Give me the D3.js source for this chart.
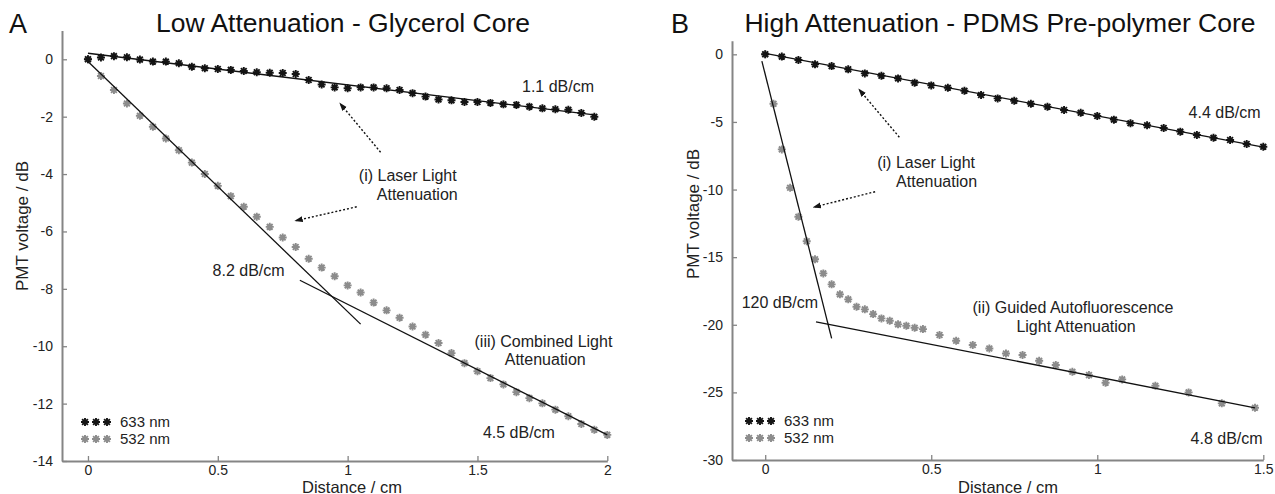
<!DOCTYPE html>
<html>
<head>
<meta charset="utf-8">
<script src="https://cdn.jsdelivr.net/npm/d3@7"></script>
<style>
  body { margin: 0; background: #fff; }
  svg { display: block; font-family: "Liberation Sans", Arial, sans-serif; }
</style>
</head>
<body>
<svg id="chart" width="1275" height="494"></svg>
<script>
// ---- Panel A: glycerol core ----
const distA633 = [0, 0.05, 0.1, 0.15, 0.2, 0.25, 0.3, 0.35, 0.4, 0.45, 0.5, 0.55, 0.6, 0.65, 0.7, 0.75, 0.8, 0.85, 0.9, 0.95,
                  1, 1.05, 1.1, 1.15, 1.2, 1.25, 1.3, 1.35, 1.4, 1.45, 1.5, 1.55, 1.6, 1.65, 1.7, 1.75, 1.8, 1.85, 1.9, 1.95];
const dbA633 = [0, 0.06, 0.11, 0.07, -0.01, -0.08, -0.08, -0.14, -0.26, -0.31, -0.34, -0.37, -0.41, -0.45, -0.47, -0.48, -0.51, -0.72, -0.88, -0.98,
                -1.01, -0.98, -0.98, -1.01, -1.07, -1.18, -1.30, -1.40, -1.43, -1.49, -1.49, -1.52, -1.57, -1.59, -1.65, -1.71, -1.74, -1.76, -1.87, -2.00];
const distA532 = [0, 0.05, 0.1, 0.15, 0.2, 0.25, 0.3, 0.35, 0.4, 0.45, 0.5, 0.55, 0.6, 0.65, 0.7, 0.75, 0.8, 0.85, 0.9, 0.95,
                  1, 1.05, 1.1, 1.15, 1.2, 1.25, 1.3, 1.35, 1.4, 1.45, 1.5, 1.55, 1.6, 1.65, 1.7, 1.75, 1.8, 1.85, 1.9, 1.95, 2];
const dbA532 = [0, -0.58, -1.07, -1.54, -1.97, -2.35, -2.76, -3.17, -3.60, -4.00, -4.41, -4.77, -5.14, -5.49, -5.84, -6.21, -6.54, -6.95, -7.26, -7.56,
                -7.88, -8.13, -8.48, -8.75, -9.01, -9.31, -9.60, -9.89, -10.24, -10.59, -10.87, -11.11, -11.33, -11.60, -11.81, -11.99, -12.21, -12.44, -12.71, -12.91, -13.09];
// fitted lines: [x0, y0, x1, y1]
const fitsA = [[0, 0.21, 1.95, -1.94], [0, -0.08, 1.05, -9.23], [0.816, -7.70, 2.0, -13.09]];
const xTicksA = [0, 0.5, 1, 1.5, 2];
const yTicksA = [0, -2, -4, -6, -8, -10, -12, -14];

// ---- Panel B: PDMS pre-polymer core ----
const distB633 = [0, 0.05, 0.1, 0.15, 0.2, 0.25, 0.3, 0.35, 0.4, 0.45, 0.5, 0.55, 0.6, 0.65, 0.7, 0.75,
                  0.8, 0.85, 0.9, 0.95, 1, 1.05, 1.1, 1.15, 1.2, 1.25, 1.3, 1.35, 1.4, 1.45, 1.5];
const dbB633 = [0, -0.17, -0.42, -0.74, -0.87, -1.11, -1.41, -1.58, -1.78, -2.10, -2.30, -2.47, -2.69, -3.01, -3.26, -3.43,
                -3.65, -3.88, -4.12, -4.32, -4.56, -4.83, -5.10, -5.25, -5.45, -5.72, -5.97, -6.17, -6.34, -6.63, -6.83];
const distB532 = [0, 0.025, 0.05, 0.075, 0.1, 0.125, 0.15, 0.175, 0.2, 0.225, 0.25, 0.275, 0.3, 0.325, 0.35, 0.375, 0.4, 0.425, 0.45, 0.475,
                  0.525, 0.575, 0.625, 0.675, 0.725, 0.775, 0.825, 0.875, 0.925, 0.975, 1.025, 1.075, 1.175, 1.275, 1.375, 1.475];
const dbB532 = [0, -3.65, -7.03, -9.87, -12.01, -13.82, -15.16, -16.20, -17.01, -17.75, -18.12, -18.67, -18.86, -19.21, -19.53, -19.70, -19.97, -20.07, -20.22, -20.32,
                -20.76, -21.18, -21.50, -21.75, -22.12, -22.24, -22.66, -22.98, -23.47, -23.72, -24.29, -24.04, -24.51, -25.00, -25.81, -26.14];
const fitsB = [[0, 0.07, 1.5, -6.86], [-0.01, -0.5, 0.2, -21.0], [0.153, -19.78, 1.475, -26.14]];
const xTicksB = [0, 0.5, 1, 1.5];
const yTicksB = [0, -5, -10, -15, -20, -25, -30];

const legendNames = ["633 nm", "532 nm"];
const colors = { dark: "#151515", grey: "#8c8c8c", axis: "#858585", text: "#222" };

const svg = d3.select("#chart");

svg.append("defs").append("marker")
  .attr("id", "arrowhead")
  .attr("viewBox", "0 0 10 10")
  .attr("refX", 9).attr("refY", 5)
  .attr("markerWidth", 6).attr("markerHeight", 6)
  .attr("orient", "auto")
  .append("path")
  .attr("d", "M0,1.5L10,5L0,8.5Z")
  .attr("fill", colors.dark);

// MATLAB style '*' marker
function asterisk(r) {
  const k = r * 0.72;
  return `M${-r},0H${r}M0,${-r}V${r}M${-k},${-k}L${k},${k}M${-k},${k}L${k},${-k}`;
}

function drawPanel(p) {
  const x = d3.scaleLinear().domain(p.xDomain).range(p.xRange);
  const y = d3.scaleLinear().domain(p.yDomain).range(p.yRange);
  const g = svg.append("g");

  // axes, ticks pointing inward
  const fmt = d => String(d);
  const xAxis = g.append("g")
    .attr("transform", `translate(0,${p.yRange[0]})`)
    .call(d3.axisBottom(x).tickValues(p.xTicks).tickFormat(fmt).tickSizeInner(-5).tickSizeOuter(0).tickPadding(4.5));
  const yAxis = g.append("g")
    .attr("transform", `translate(${p.xRange[0]},0)`)
    .call(d3.axisLeft(y).tickValues(p.yTicks).tickFormat(fmt).tickSizeInner(-5).tickSizeOuter(0).tickPadding(9));
  [xAxis, yAxis].forEach(a => {
    a.select(".domain").attr("stroke", colors.axis).attr("stroke-width", 2);
    a.selectAll(".tick line").attr("stroke", colors.axis).attr("stroke-width", 1.3);
    a.selectAll(".tick text").attr("fill", colors.text).style("font-size", "14px").style("font-family", "inherit");
  });

  // data markers
  p.series.forEach(s => {
    g.append("g").selectAll("path")
      .data(s.xs.map((v, i) => [v, s.ys[i]]))
      .enter().append("path")
      .attr("transform", d => `translate(${x(d[0])},${y(d[1])})`)
      .attr("d", asterisk(4))
      .attr("stroke", s.color)
      .attr("stroke-width", 1.9)
      .attr("fill", "none");
  });

  // fitted lines
  g.append("g").selectAll("line")
    .data(p.fits)
    .enter().append("line")
    .attr("x1", d => x(d[0])).attr("y1", d => y(d[1]))
    .attr("x2", d => x(d[2])).attr("y2", d => y(d[3]))
    .attr("stroke", "#111")
    .attr("stroke-width", 1.3);

  // dotted arrows
  g.append("g").selectAll("line")
    .data(p.arrows)
    .enter().append("line")
    .attr("x1", d => x(d[0])).attr("y1", d => y(d[1]))
    .attr("x2", d => x(d[2])).attr("y2", d => y(d[3]))
    .attr("stroke", "#111")
    .attr("stroke-width", 1.4)
    .attr("stroke-dasharray", "2,2")
    .attr("marker-end", "url(#arrowhead)");

  // annotations
  g.append("g").selectAll("text")
    .data(p.notes)
    .enter().append("text")
    .attr("x", d => x(d.x)).attr("y", d => y(d.y))
    .attr("text-anchor", d => d.anchor)
    .attr("fill", colors.text)
    .style("font-size", "16px")
    .text(d => d.text);

  // legend
  const lg = g.append("g").attr("transform", `translate(${p.xRange[0] + p.legendX},${p.yRange[0] - 39})`);
  legendNames.forEach((name, i) => {
    const row = lg.append("g").attr("transform", `translate(0,${i * 17})`);
    [0, 11, 22].forEach(dx => {
      row.append("path")
        .attr("transform", `translate(${dx},0)`)
        .attr("d", asterisk(4))
        .attr("stroke", p.series[1 - i].color)
        .attr("stroke-width", 1.9)
        .attr("fill", "none");
    });
    row.append("text")
      .attr("x", 35).attr("y", 5)
      .attr("fill", colors.text)
      .style("font-size", "15px")
      .text(name);
  });

  // titles and axis labels
  svg.append("text")
    .attr("x", p.letterX).attr("y", 33)
    .style("font-size", "27px")
    .attr("fill", "#111")
    .text(p.letter);
  svg.append("text")
    .attr("x", p.titleX).attr("y", 32)
    .attr("text-anchor", "middle")
    .style("font-size", "26.5px")
    .attr("fill", "#111")
    .text(p.title);
  svg.append("text")
    .attr("x", p.xLabelX).attr("y", 492.5)
    .attr("text-anchor", "middle")
    .style("font-size", "16.5px")
    .attr("fill", colors.text)
    .text("Distance / cm");
  svg.append("text")
    .attr("transform", `translate(${p.yLabelX},${p.yLabelY}) rotate(-90)`)
    .attr("text-anchor", "middle")
    .style("font-size", "17px")
    .attr("fill", colors.text)
    .text("PMT voltage / dB");
}

drawPanel({
  letter: "A", letterX: 9, title: "Low Attenuation - Glycerol Core", titleX: 343,
  xDomain: [-0.1, 2], xRange: [62, 607.3], yDomain: [-14, 1], yRange: [461, 30.6],
  xTicks: xTicksA, yTicks: yTicksA,
  xLabelX: 352, yLabelX: 28, yLabelY: 226, legendX: 23,
  series: [{ xs: distA532, ys: dbA532, color: colors.grey }, { xs: distA633, ys: dbA633, color: colors.dark }],
  fits: fitsA,
  arrows: [[1.127, -3.24, 0.97, -1.53], [1.035, -5.14, 0.798, -5.63]],
  notes: [
    { text: "1.1 dB/cm", x: 1.949, y: -1.14, anchor: "end" },
    { text: "(i) Laser Light", x: 1.42, y: -4.24, anchor: "end" },
    { text: "Attenuation", x: 1.424, y: -4.9, anchor: "end" },
    { text: "8.2 dB/cm", x: 0.48, y: -7.55, anchor: "start" },
    { text: "(iii) Combined Light", x: 1.754, y: -10.01, anchor: "middle" },
    { text: "Attenuation", x: 1.761, y: -10.66, anchor: "middle" },
    { text: "4.5 dB/cm", x: 1.521, y: -13.2, anchor: "start" }
  ]
});

drawPanel({
  letter: "B", letterX: 671, title: "High Attenuation - PDMS Pre-polymer Core", titleX: 1000,
  xDomain: [-0.1, 1.5], xRange: [732, 1263.3], yDomain: [-30, 1], yRange: [460, 40.8],
  xTicks: xTicksB, yTicks: yTicksB,
  xLabelX: 1008, yLabelX: 699, yLabelY: 214, legendX: 17,
  series: [{ xs: distB532, ys: dbB532, color: colors.grey }, { xs: distB633, ys: dbB633, color: colors.dark }],
  fits: fitsB,
  arrows: [[0.404, -6.13, 0.282, -2.58], [0.331, -10.16, 0.145, -11.31]],
  notes: [
    { text: "4.4 dB/cm", x: 1.492, y: -4.7, anchor: "end" },
    { text: "(i) Laser Light", x: 0.632, y: -8.4, anchor: "end" },
    { text: "Attenuation", x: 0.638, y: -9.84, anchor: "end" },
    { text: "120 dB/cm", x: -0.071, y: -18.79, anchor: "start" },
    { text: "(ii) Guided Autofluorescence", x: 0.927, y: -19.16, anchor: "middle" },
    { text: "Light Attenuation", x: 0.936, y: -20.57, anchor: "middle" },
    { text: "4.8 dB/cm", x: 1.281, y: -28.85, anchor: "start" }
  ]
});
</script>
</body>
</html>
